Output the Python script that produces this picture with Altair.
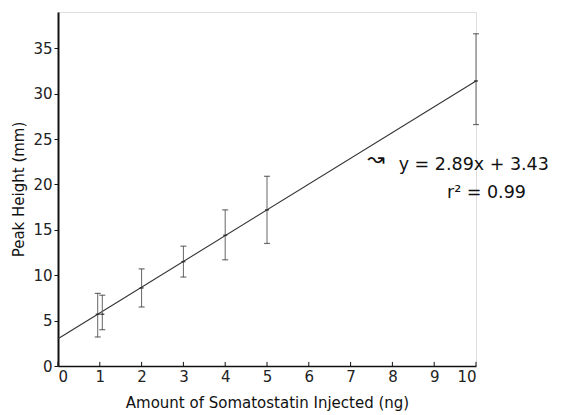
import altair as alt
import pandas as pd

# Data
bar_x = [0.95, 1.06, 2, 3, 4, 5, 10]
bar_mean = [5.7, 5.7, 8.6, 11.5, 14.4, 17.2, 31.4]
bar_low = [3.2, 4.0, 6.5, 9.8, 11.7, 13.5, 26.6]
bar_high = [8.0, 7.8, 10.7, 13.2, 17.2, 20.9, 36.6]

line_x = [0, 10]
line_y = [3.0, 31.4]

x_ticks = [0, 1, 2, 3, 4, 5, 6, 7, 8, 9, 10]
y_ticks = [0, 5, 10, 15, 20, 25, 30, 35]

eq_text = ["y = 2.89x + 3.43", "r² = 0.99"]
eq_x = [8.15, 10.25]
eq_y = [22.1, 19.1]

FONT = "DejaVu Sans"

bars = pd.DataFrame({"x": bar_x, "mean": bar_mean, "low": bar_low, "high": bar_high})
line = pd.DataFrame({"x": line_x, "y": line_y})
xt = pd.DataFrame({"x": x_ticks, "y0": [0] * len(x_ticks), "y1": [0.45] * len(x_ticks)})
eq = pd.DataFrame({"text": eq_text, "x": eq_x, "y": eq_y})
arrow = pd.DataFrame({"x": [7.4], "y": [22.7], "text": ["↝"]})

xs = alt.Scale(domain=[0, 10], nice=False, zero=False)
ys = alt.Scale(domain=[0, 39], nice=False, zero=False)

xaxis = alt.Axis(values=x_ticks, ticks=False, grid=False, labelFont=FONT, labelFontSize=15,
                 labelColor="#222", labelPadding=3, domainColor="#111", domainWidth=1.6,
                 title="Amount of Somatostatin Injected (ng)", titleFont=FONT, titleFontSize=15,
                 titleFontWeight="normal", titleColor="#111", titlePadding=11)
yaxis = alt.Axis(values=y_ticks, grid=False, labelFont=FONT, labelFontSize=15, labelColor="#222",
                 tickSize=4, tickColor="#111", labelPadding=2, domainColor="#111", domainWidth=2,
                 title="Peak Height (mm)", titleFont=FONT, titleFontSize=15, titleFontWeight="normal",
                 titleColor="#111", titlePadding=6)

base_line = alt.Chart(line).mark_line(color="#333", strokeWidth=1.1).encode(
    x=alt.X("x:Q", scale=xs, axis=xaxis),
    y=alt.Y("y:Q", scale=ys, axis=yaxis),
)

xtick_layer = alt.Chart(xt).mark_rule(color="#111", strokeWidth=1).encode(
    x=alt.X("x:Q", scale=xs), y=alt.Y("y0:Q", scale=ys), y2="y1:Q"
)

err = alt.Chart(bars).mark_rule(color="#666", strokeWidth=1).encode(
    x=alt.X("x:Q", scale=xs), y=alt.Y("low:Q", scale=ys), y2="high:Q"
)
cap_hi = alt.Chart(bars).mark_tick(color="#333", orient="horizontal", size=6, thickness=1.2).encode(
    x=alt.X("x:Q", scale=xs), y=alt.Y("high:Q", scale=ys)
)
cap_lo = alt.Chart(bars).mark_tick(color="#333", orient="horizontal", size=6, thickness=1.2).encode(
    x=alt.X("x:Q", scale=xs), y=alt.Y("low:Q", scale=ys)
)
mid = alt.Chart(bars).mark_tick(color="#111", orient="horizontal", size=4, thickness=1.5).encode(
    x=alt.X("x:Q", scale=xs), y=alt.Y("mean:Q", scale=ys)
)

arrow_layer = alt.Chart(arrow).mark_text(align="left", baseline="middle", font=FONT, fontSize=21,
                                         color="#111").encode(
    x=alt.X("x:Q", scale=xs), y=alt.Y("y:Q", scale=ys), text="text:N"
)
eq_main = alt.Chart(eq.iloc[[0]]).mark_text(align="left", baseline="middle", font=FONT, fontSize=17.5,
                                            color="#111").encode(
    x=alt.X("x:Q", scale=xs), y=alt.Y("y:Q", scale=ys), text="text:N"
)
eq_r2 = alt.Chart(eq.iloc[[1]]).mark_text(align="center", baseline="middle", font=FONT, fontSize=17.5,
                                          color="#111").encode(
    x=alt.X("x:Q", scale=xs), y=alt.Y("y:Q", scale=ys), text="text:N"
)

chart = alt.layer(base_line, xtick_layer, err, cap_hi, cap_lo, mid, eq_main, eq_r2, arrow_layer).properties(
    width=418, height=354,
    autosize=alt.AutoSizeParams(type="none"),
    padding={"left": 50, "top": 4, "right": 76, "bottom": 46},
).configure_view(stroke=None).configure(background="white")

chart.save("out.html", embed_options={"renderer": "svg", "actions": False})
